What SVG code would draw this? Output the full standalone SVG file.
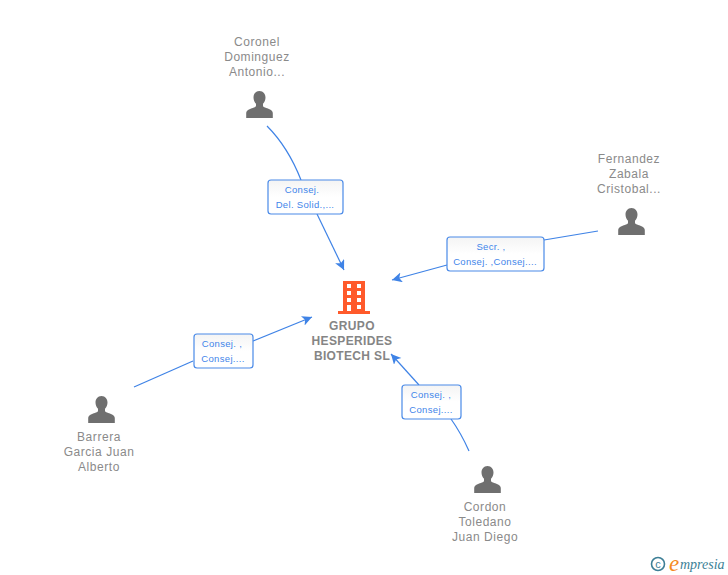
<svg xmlns="http://www.w3.org/2000/svg" width="728" height="575" viewBox="0 0 728 575">
<style>
text{font-family:"Liberation Sans",Arial,sans-serif}
.n{font-size:12px;fill:#8a8a8a;text-anchor:middle;letter-spacing:.55px}
.c{font-size:12px;font-weight:bold;fill:#858585;text-anchor:middle;letter-spacing:.35px}
.l{font-size:9.5px;fill:#3f85ea;text-anchor:middle;letter-spacing:.32px}
.e{fill:none;stroke:#3f83e6;stroke-width:1.2}
.b{fill:url(#g);stroke:#4a8ae8;stroke-width:1.2}
.p{fill:#6f6f6f}
</style>
<defs>
<linearGradient id="g" x1="0" y1="0" x2="0" y2="1"><stop offset="0" stop-color="#f4f4f4"/><stop offset=".5" stop-color="#fff"/></linearGradient>
<marker id="a" markerUnits="userSpaceOnUse" markerWidth="12" markerHeight="12" refX="10" refY="5" orient="auto"><path d="M0 0L10 5L0 10L2.5 5Z" fill="#3f83e6"/></marker>
<path id="u" d="M0-14c3.800 0 6 3 6 6.600c0 2.600-1 4.800-2.500 6.200v2.200c0 1 3.500 2 6.500 3.200c2.300 1 3.300 2.200 3.300 4v4.800h-26.600v-4.800c0-1.800 1-3 3.300-4c3-1.200 6.500-2.200 6.500-3.200v-2.200c-1.500-1.400-2.500-3.600-2.500-6.200c0-3.600 2.200-6.600 6-6.600z"/>
</defs>
<g id="connectors">
<path class="e" d="M267 126Q288 147 301 180"/>
<path class="e" d="M317 214L344 270" marker-end="url(#a)"/>
<path class="e" d="M598 231L544 240"/>
<path class="e" d="M447 265L392 280" marker-end="url(#a)"/>
<path class="e" d="M134 387L193 361"/>
<path class="e" d="M253 341L312 317" marker-end="url(#a)"/>
<path class="e" d="M469 451Q461 433 451 419"/>
<path class="e" d="M419 385L391 354" marker-end="url(#a)"/>
</g>
<g id="edge-label-1"><rect class="b" x="268" y="180" width="75" height="34" rx="3"/><text class="l" x="302" y="193">Consej.</text><text class="l" x="305" y="208">Del. Solid.,...</text></g>
<g id="edge-label-2"><rect class="b" x="447" y="237" width="97" height="34" rx="3"/><text class="l" x="491" y="250">Secr. ,</text><text class="l" x="495" y="265">Consej. ,Consej....</text></g>
<g id="edge-label-3"><rect class="b" x="194" y="334" width="59" height="34" rx="3"/><text class="l" x="222" y="347">Consej. ,</text><text class="l" x="223" y="362">Consej....</text></g>
<g id="edge-label-4"><rect class="b" x="402" y="385" width="59" height="34" rx="3"/><text class="l" x="431" y="398">Consej. ,</text><text class="l" x="431" y="413">Consej....</text></g>
<g id="company">
<path fill="#ff5a2b" fill-rule="evenodd" d="M343 281H365V311H370V314H338V311H343ZM347 284V288H351V284ZM357 284V288H361V284ZM347 291V295H351V291ZM357 291V295H361V291ZM347 298V302H351V298ZM357 298V302H361V298ZM347 305V311H351V305ZM357 305V309H361V305Z"/>
<text class="c" x="352" y="330">GRUPO</text><text class="c" x="352" y="345">HESPERIDES</text><text class="c" x="352" y="360">BIOTECH SL</text>
</g>
<g id="person-coronel"><use href="#u" class="p" x="259.500" y="105"/><text class="n" x="257" y="46">Coronel</text><text class="n" x="257" y="61">Dominguez</text><text class="n" x="257" y="76">Antonio...</text></g>
<g id="person-fernandez"><use href="#u" class="p" x="631.500" y="222"/><text class="n" x="629" y="163">Fernandez</text><text class="n" x="629" y="178">Zabala</text><text class="n" x="629" y="193">Cristobal...</text></g>
<g id="person-barrera"><use href="#u" class="p" x="101.500" y="410"/><text class="n" x="99" y="441">Barrera</text><text class="n" x="99" y="456">Garcia Juan</text><text class="n" x="99" y="471">Alberto</text></g>
<g id="person-cordon"><use href="#u" class="p" x="487.500" y="480"/><text class="n" x="485" y="511">Cordon</text><text class="n" x="485" y="526">Toledano</text><text class="n" x="485" y="541">Juan Diego</text></g>
<g id="logo">
<circle cx="658" cy="564" r="6.500" fill="none" stroke="#3d7f96" stroke-width="1.600"/>
<text x="658" y="568" font-size="11" fill="#3d7f96" text-anchor="middle">c</text>
<text x="669" y="571" font-size="23" fill="#f58a1f" style="font-family:'Liberation Serif',serif;font-style:italic">e</text>
<text x="680" y="569" font-size="14" fill="#3d7f96" style="font-family:'Liberation Serif',serif;font-style:italic">mpresia</text>
</g>
</svg>
